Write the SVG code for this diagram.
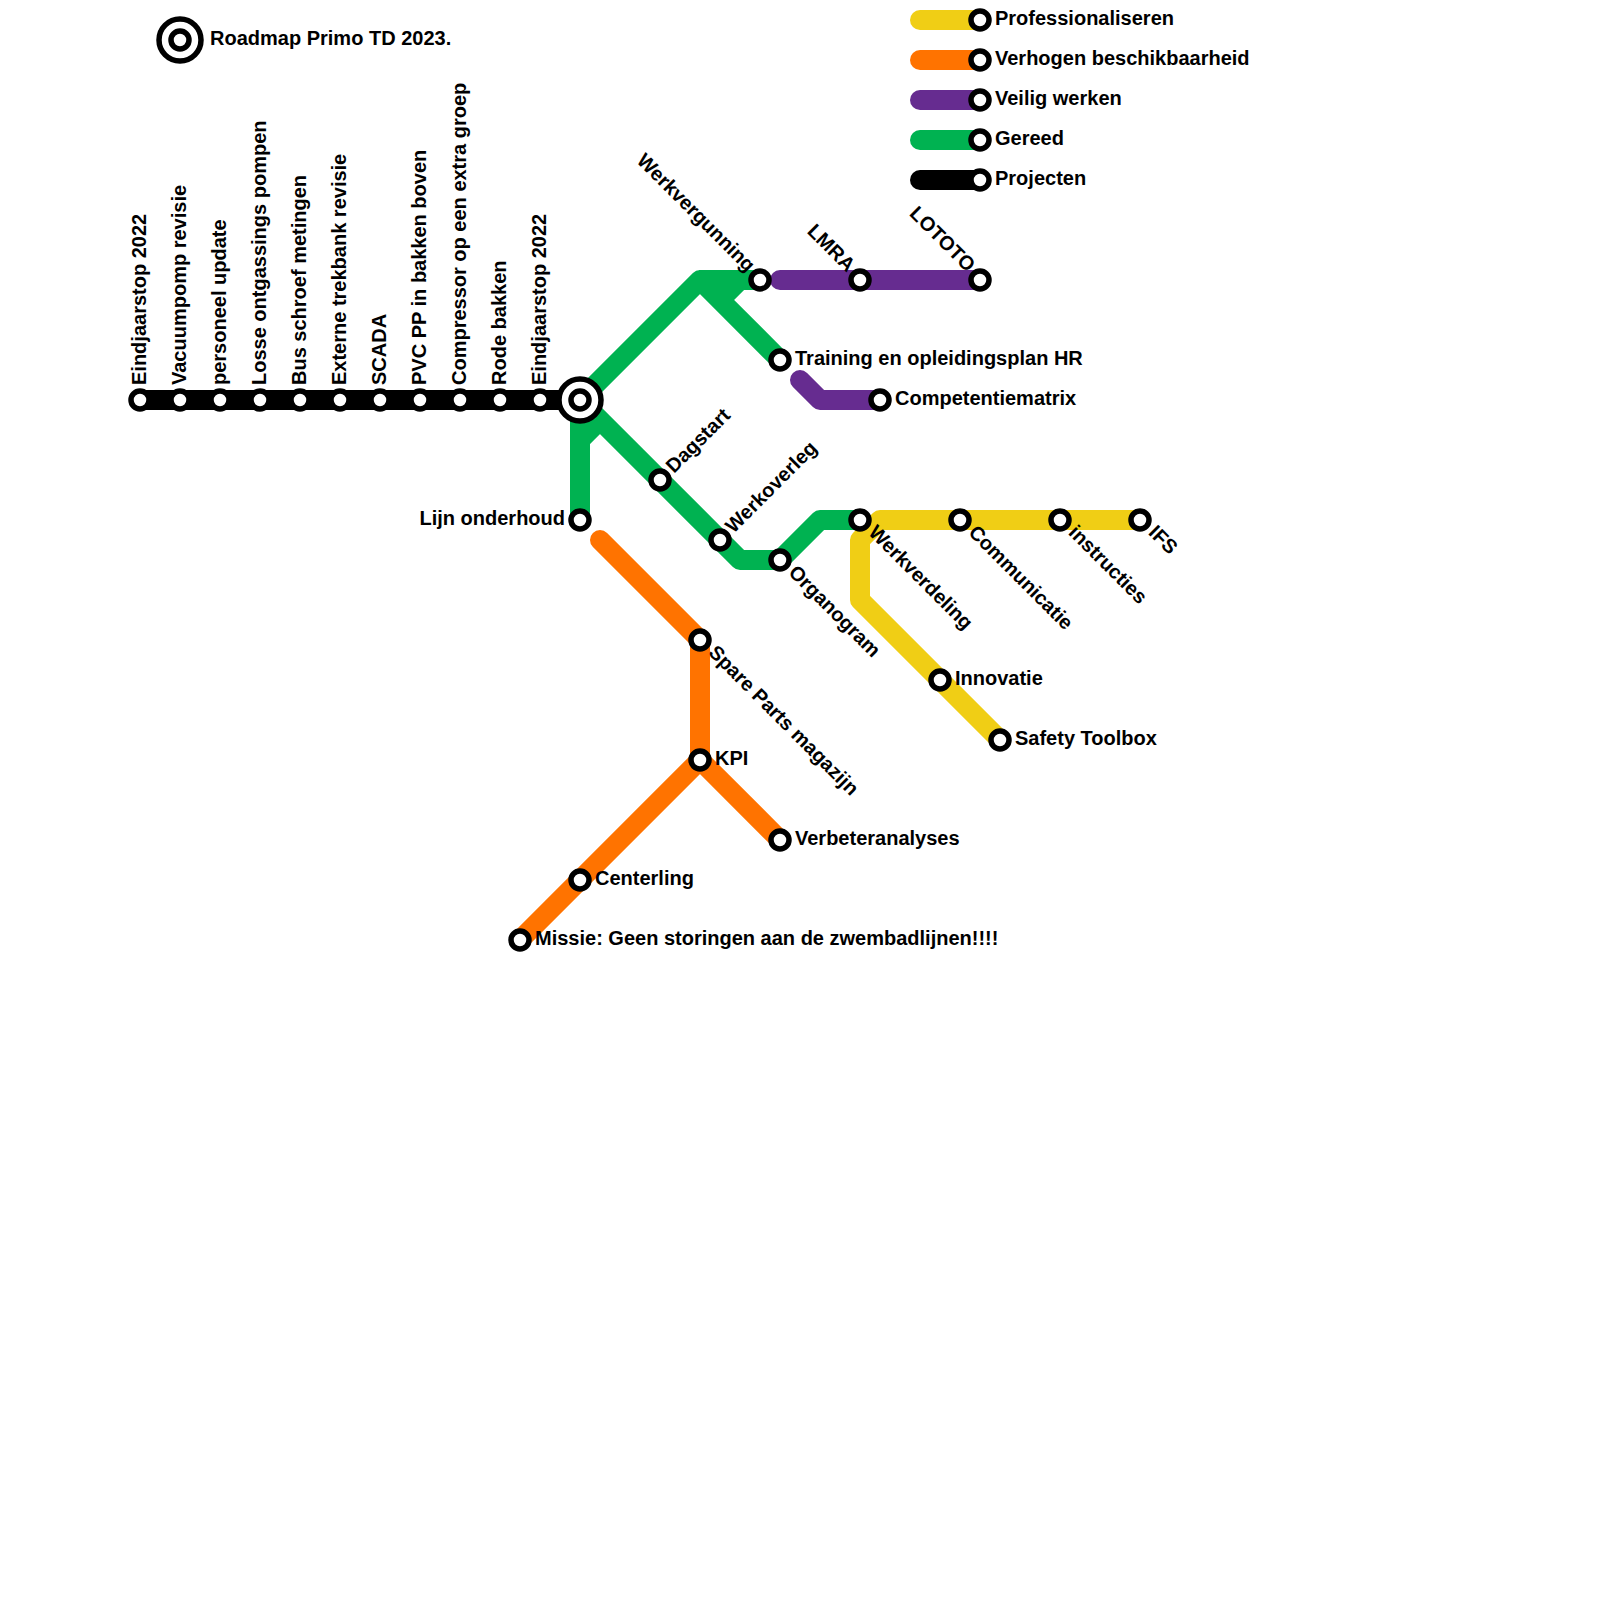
<svg xmlns="http://www.w3.org/2000/svg" width="1600" height="1600" viewBox="0 0 1600 1600">
<style>
.l{fill:none;stroke-width:20;stroke-linecap:round;stroke-linejoin:round}
.y{stroke:#f0ce15}.o{stroke:#ff7300}.p{stroke:#662c90}.g{stroke:#00b251}.k{stroke:#000}
.s{fill:#fff;stroke:#000;stroke-width:5.5}
.e{text-anchor:end}
text{font-family:"Liberation Sans",Arial,sans-serif;font-weight:700;font-size:20px;fill:#000}
</style>
<rect width="1600" height="1600" fill="#fff"/>
<g id="connectors">
<path class="l k" d="M140 400H580"/>
<path class="l g" d="M580 400L700 280H760M700 280L780 360M760 280H740L720 300"/>
<path class="l g" d="M580 400V520M580 440L600 420M580 400L740 560H780L820 520H860"/>
<path class="l p" d="M780 280H980M800 380L820 400H880"/>
<path class="l y" d="M1140 520H880L860 540V600L1000 740"/>
<path class="l o" d="M600 540L700 640V760M780 840L700 760L520 940"/>
<path class="l y" d="M920 20H980"/><path class="l o" d="M920 60H980"/><path class="l p" d="M920 100H980"/><path class="l g" d="M920 140H980"/><path class="l k" d="M920 180H980"/>
</g>
<g id="title"><circle class="s" cx="180" cy="40" r="21"/><circle class="s" cx="180" cy="40" r="9"/><text x="210" y="45">Roadmap Primo TD 2023.</text></g>
<g id="hub"><circle class="s" cx="580" cy="400" r="21"/><circle class="s" cx="580" cy="400" r="9"/></g>
<g id="n1"><circle class="s" cx="140" cy="400" r="9"/><text transform="translate(145.5 385) rotate(-90)">Eindjaarstop 2022</text></g>
<g id="n2"><circle class="s" cx="180" cy="400" r="9"/><text transform="translate(185.5 385) rotate(-90)">Vacuumpomp revisie</text></g>
<g id="n3"><circle class="s" cx="220" cy="400" r="9"/><text transform="translate(225.5 385) rotate(-90)">personeel update</text></g>
<g id="n4"><circle class="s" cx="260" cy="400" r="9"/><text transform="translate(265.5 385) rotate(-90)">Losse ontgassings pompen</text></g>
<g id="n5"><circle class="s" cx="300" cy="400" r="9"/><text transform="translate(305.5 385) rotate(-90)">Bus schroef metingen</text></g>
<g id="n6"><circle class="s" cx="340" cy="400" r="9"/><text transform="translate(345.5 385) rotate(-90)">Externe trekbank revisie</text></g>
<g id="n7"><circle class="s" cx="380" cy="400" r="9"/><text transform="translate(385.5 385) rotate(-90)">SCADA</text></g>
<g id="n8"><circle class="s" cx="420" cy="400" r="9"/><text transform="translate(425.5 385) rotate(-90)">PVC PP in bakken boven</text></g>
<g id="n9"><circle class="s" cx="460" cy="400" r="9"/><text transform="translate(465.5 385) rotate(-90)">Compressor op een extra groep</text></g>
<g id="n10"><circle class="s" cx="500" cy="400" r="9"/><text transform="translate(505.5 385) rotate(-90)">Rode bakken</text></g>
<g id="n11"><circle class="s" cx="540" cy="400" r="9"/><text transform="translate(545.5 385) rotate(-90)">Eindjaarstop 2022</text></g>
<g id="lijn"><circle class="s" cx="580" cy="520" r="9"/><text class="e" x="565" y="525">Lijn onderhoud</text></g>
<g id="dagstart"><circle class="s" cx="660" cy="480" r="9"/><text transform="translate(674 474) rotate(-45)">Dagstart</text></g>
<g id="werkoverleg"><circle class="s" cx="720" cy="540" r="9"/><text transform="translate(733.5 534) rotate(-45)">Werkoverleg</text></g>
<g id="organogram"><circle class="s" cx="780" cy="560" r="9"/><text transform="translate(787.5 573.5) rotate(45)">Organogram</text></g>
<g id="werkverdeling"><circle class="s" cx="860" cy="520" r="9"/><text transform="translate(867.5 533.5) rotate(45)">Werkverdeling</text></g>
<g id="communicatie"><circle class="s" cx="960" cy="520" r="9"/><text transform="translate(967.5 533.5) rotate(45)">Communicatie</text></g>
<g id="instructies"><circle class="s" cx="1060" cy="520" r="9"/><text transform="translate(1067.5 533.5) rotate(45)">instructies</text></g>
<g id="ifs"><circle class="s" cx="1140" cy="520" r="9"/><text transform="translate(1147.5 533.5) rotate(45)">IFS</text></g>
<g id="innovatie"><circle class="s" cx="940" cy="680" r="9"/><text x="955" y="685">Innovatie</text></g>
<g id="safety"><circle class="s" cx="1000" cy="740" r="9"/><text x="1015" y="745">Safety Toolbox</text></g>
<g id="training"><circle class="s" cx="780" cy="360" r="9"/><text x="795" y="365">Training en opleidingsplan HR</text></g>
<g id="competentie"><circle class="s" cx="880" cy="400" r="9"/><text x="895" y="405">Competentiematrix</text></g>
<g id="werkvergunning"><circle class="s" cx="760" cy="280" r="9"/><text class="e" transform="translate(747 273) rotate(45)">Werkvergunning</text></g>
<g id="lmra"><circle class="s" cx="860" cy="280" r="9"/><text class="e" transform="translate(847 273) rotate(45)">LMRA</text></g>
<g id="lototo"><circle class="s" cx="980" cy="280" r="9"/><text class="e" transform="translate(967 273) rotate(45)">LOTOTO</text></g>
<g id="spare"><circle class="s" cx="700" cy="640" r="9"/><text transform="translate(707.5 653.5) rotate(45)">Spare Parts magazijn</text></g>
<g id="kpi"><circle class="s" cx="700" cy="760" r="9"/><text x="715" y="765">KPI</text></g>
<g id="verbeter"><circle class="s" cx="780" cy="840" r="9"/><text x="795" y="845">Verbeteranalyses</text></g>
<g id="centerling"><circle class="s" cx="580" cy="880" r="9"/><text x="595" y="885">Centerling</text></g>
<g id="missie"><circle class="s" cx="520" cy="940" r="9"/><text x="535" y="945">Missie: Geen storingen aan de zwembadlijnen!!!!</text></g>
<g id="leg1"><circle class="s" cx="980" cy="20" r="9"/><text x="995" y="25">Professionaliseren</text></g>
<g id="leg2"><circle class="s" cx="980" cy="60" r="9"/><text x="995" y="65">Verhogen beschikbaarheid</text></g>
<g id="leg3"><circle class="s" cx="980" cy="100" r="9"/><text x="995" y="105">Veilig werken</text></g>
<g id="leg4"><circle class="s" cx="980" cy="140" r="9"/><text x="995" y="145">Gereed</text></g>
<g id="leg5"><circle class="s" cx="980" cy="180" r="9"/><text x="995" y="185">Projecten</text></g>
</svg>
